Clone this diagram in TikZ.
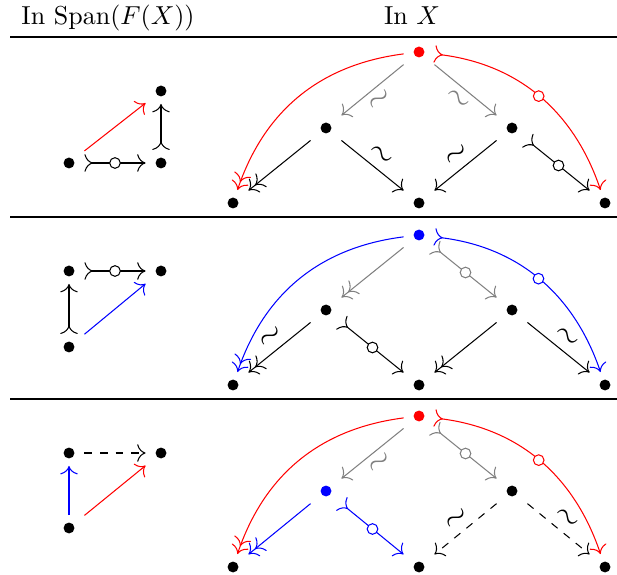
\documentclass[tikz,border=0pt]{standalone}
\usetikzlibrary{arrows.meta}
\begin{document}
\begin{tikzpicture}[x=0.385pt,y=-0.385pt,
  >={Computer Modern Rightarrow[scale=1.3]},
  dot/.style={rectangle, minimum width=11.5pt, minimum height=9.6pt, inner sep=0pt,
    path picture={\fill[#1] (path picture bounding box.center) circle[radius=2.1pt];}},
  dot/.default=black,
  circ/.style={circle, draw, fill=white, inner sep=0pt, minimum size=4.1pt, pos=0.5},
  tl/.style={midway, sloped, inner sep=2.6pt, font=\large},
  tla/.style={tl, above},
  tlb/.style={tl, below},
  rulethick/.style={line width=1.1pt},
  rulethin/.style={line width=0.8pt},
  lbl/.style={anchor=base, inner sep=0pt}
]
\useasboundingbox (0,0) rectangle (617,575);
% header
\node[lbl] (h1) at (108,25) {In Span$(F(X))$};
\node[lbl] (h2) at (412,25) {In $X$};
\coordinate (r1a) at (10,37);  \coordinate (r1b) at (617,37);
\coordinate (r2a) at (10,217); \coordinate (r2b) at (617,217);
\coordinate (r3a) at (10,399); \coordinate (r3b) at (617,399);
\draw[rulethick] (r1a) -- (r1b);
\draw[rulethick] (r2a) -- (r2b);
\draw[rulethin] (r3a) -- (r3b);

% ---------- Row 1 ----------
\node[dot] (a1) at (69,163) {};
\node[dot] (b1) at (161,163) {};
\node[dot] (c1) at (161,91) {};
\draw[>->] (a1) -- node[circ]{} (b1);
\draw[>->] (b1) -- (c1);
\draw[->, red] (a1) -- (c1);

\node[dot=red] (T1) at (419,52) {};
\node[dot] (L1) at (326,128) {};
\node[dot] (R1) at (512,128) {};
\node[dot] (BL1) at (233,203) {};
\node[dot] (BM1) at (419,203) {};
\node[dot] (BR1) at (605,203) {};
\draw[->, gray] (T1) -- node[tlb, text=gray]{$\sim$} (L1);
\draw[->, gray] (T1) -- node[tlb, text=gray]{$\sim$} (R1);
\draw[->>] (L1) -- (BL1);
\draw[->] (L1) -- node[tla]{$\sim$} (BM1);
\draw[->] (R1) -- node[tla]{$\sim$} (BM1);
\draw[>->] (R1) -- node[circ]{} (BR1);
\draw[->>, red] (T1) to[bend right=32] (BL1);
\draw[>->, red] (T1) to[bend left=32] node[circ]{} (BR1);

% ---------- Row 2 ----------
\node[dot] (a2) at (69,271) {};
\node[dot] (b2) at (161,271) {};
\node[dot] (c2) at (69,347) {};
\draw[>->] (a2) -- node[circ]{} (b2);
\draw[>->] (c2) -- (a2);
\draw[->, blue] (c2) -- (b2);

\node[dot=blue] (T2) at (419,235) {};
\node[dot] (L2) at (326,310) {};
\node[dot] (R2) at (512,310) {};
\node[dot] (BL2) at (233,385) {};
\node[dot] (BM2) at (419,385) {};
\node[dot] (BR2) at (605,385) {};
\draw[->>, gray] (T2) -- (L2);
\draw[>->, gray] (T2) -- node[circ]{} (R2);
\draw[->>] (L2) -- node[tla]{$\sim$} (BL2);
\draw[>->] (L2) -- node[circ]{} (BM2);
\draw[->>] (R2) -- (BM2);
\draw[->] (R2) -- node[tla]{$\sim$} (BR2);
\draw[->>, blue] (T2) to[bend right=32] (BL2);
\draw[>->, blue] (T2) to[bend left=32] node[circ]{} (BR2);

% ---------- Row 3 ----------
\node[dot] (a3) at (69,453) {};
\node[dot] (b3) at (161,453) {};
\node[dot] (c3) at (69,528) {};
\draw[->, dashed] (a3) -- (b3);
\draw[->, blue] (c3) -- (a3);
\draw[->, red] (c3) -- (b3);

\node[dot=red] (T3) at (419,416) {};
\node[dot=blue] (L3) at (326,491) {};
\node[dot] (R3) at (512,491) {};
\node[dot] (BL3) at (233,567) {};
\node[dot] (BM3) at (419,567) {};
\node[dot] (BR3) at (605,567) {};
\draw[->, gray] (T3) -- node[tlb, text=gray]{$\sim$} (L3);
\draw[>->, gray] (T3) -- node[circ]{} (R3);
\draw[->>, blue] (L3) -- (BL3);
\draw[>->, blue] (L3) -- node[circ]{} (BM3);
\draw[->, dashed] (R3) -- node[tla]{$\sim$} (BM3);
\draw[->, dashed] (R3) -- node[tla]{$\sim$} (BR3);
\draw[->>, red] (T3) to[bend right=32] (BL3);
\draw[>->, red] (T3) to[bend left=32] node[circ]{} (BR3);
\end{tikzpicture}
\end{document}
